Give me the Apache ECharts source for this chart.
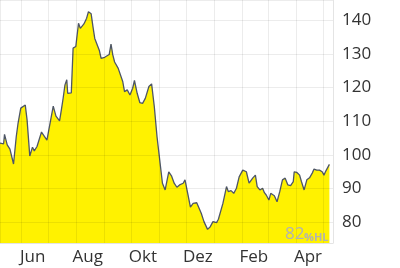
<!DOCTYPE html>
<html><head><meta charset="utf-8">
<script src="https://cdn.jsdelivr.net/npm/echarts@6/dist/echarts.min.js"></script>
<style>html,body{margin:0;padding:0;background:#fff}#c{width:400px;height:268px}</style>
</head><body><div id="c"></div>
<script>
const dates = [
'2023-05-09','2023-05-13','2023-05-14','2023-05-17','2023-05-20','2023-05-24','2023-05-27','2023-05-29',
'2023-06-01','2023-06-06','2023-06-08','2023-06-11','2023-06-14','2023-06-16','2023-06-19','2023-06-24','2023-06-30',
'2023-07-07','2023-07-10','2023-07-14','2023-07-16','2023-07-18','2023-07-20','2023-07-22','2023-07-23','2023-07-27','2023-07-29',
'2023-08-01','2023-08-04','2023-08-06','2023-08-10','2023-08-13','2023-08-15','2023-08-18','2023-08-20','2023-08-22','2023-08-24','2023-08-27','2023-08-29',
'2023-09-02','2023-09-07','2023-09-09','2023-09-11','2023-09-13','2023-09-17','2023-09-22','2023-09-24','2023-09-27','2023-09-30',
'2023-10-03','2023-10-05','2023-10-08','2023-10-11','2023-10-14','2023-10-17','2023-10-21','2023-10-24','2023-10-25','2023-10-27','2023-10-30',
'2023-11-02','2023-11-05','2023-11-08','2023-11-12','2023-11-15','2023-11-18','2023-11-21','2023-11-24','2023-11-28','2023-11-30',
'2023-12-03','2023-12-06','2023-12-09','2023-12-13','2023-12-15','2023-12-18','2023-12-21','2023-12-25','2023-12-28','2023-12-31',
'2024-01-04','2024-01-06','2024-01-11','2024-01-15','2024-01-17','2024-01-20','2024-01-23','2024-01-26','2024-01-29',
'2024-02-02','2024-02-06','2024-02-09','2024-02-13','2024-02-16','2024-02-18','2024-02-21','2024-02-24','2024-02-26','2024-02-28',
'2024-03-02','2024-03-04','2024-03-08','2024-03-11','2024-03-14','2024-03-17','2024-03-20','2024-03-23','2024-03-26','2024-03-29','2024-03-30',
'2024-04-02','2024-04-05','2024-04-07','2024-04-10','2024-04-13','2024-04-16','2024-04-19','2024-04-21','2024-04-24','2024-04-27','2024-04-30',
'2024-05-02','2024-05-04','2024-05-08'
];
const prices = [
103.5,103.3,106.1,103.0,101.7,97.3,105.4,109.4,
113.9,114.8,110.4,99.7,102.3,101.2,102.5,106.8,104.4,
114.5,111.5,110.1,113.4,116.9,120.8,122.3,118.3,118.4,131.7,
132.2,139.1,137.6,138.9,140.6,142.5,141.9,138.1,134.6,134.1,131.1,128.7,
129.0,129.8,132.9,129.7,127.6,125.7,121.8,118.8,119.3,117.8,
119.8,122.1,118.3,115.5,115.3,116.8,120.3,121.1,120.8,114.3,105.4,
98.5,91.6,89.6,95.0,93.8,91.6,90.4,91.1,91.6,92.6,
88.6,84.5,85.6,85.8,85.7,82.7,80.2,77.9,78.7,80.2,
79.9,80.9,85.6,90.6,89.1,89.4,88.6,90.1,93.5,
95.5,95.0,91.6,93.1,94.0,90.6,89.6,90.1,88.8,88.1,
86.6,88.6,87.9,86.1,89.1,92.6,93.1,91.1,90.9,92.1,95.0,
94.8,94.0,92.1,89.6,92.6,93.2,94.6,95.8,95.5,95.5,95.0,
94.0,95.2,97.2
];
const monthLabels = ['Jan','Feb','Mär','Apr','Mai','Jun','Jul','Aug','Sep','Okt','Nov','Dez'];
const labelledMonths = ['Jun','Aug','Okt','Dez','Feb','Apr'];
const hlValue = '82';
const hlUnit = '%HL';

const DAY = 86400000;
const chart = echarts.init(document.getElementById('c'), null, {renderer: 'canvas'});
const font = '"Open Sans", "Noto Sans", sans-serif';
chart.setOption({
  animation: false,
  backgroundColor: '#fff',
  grid: {left: 0, right: 67, top: 0, bottom: 25, containLabel: false},
  xAxis: {
    type: 'time',
    min: '2023-05-09',
    max: '2024-05-12',
    splitNumber: 12,
    minInterval: 30 * DAY,
    maxInterval: 30 * DAY,
    z: 5,
    axisLine: {show: true, lineStyle: {color: '#e4e4e4', width: 1}},
    axisTick: {show: false},
    splitLine: {show: true, lineStyle: {color: 'rgba(0,0,0,0.075)', width: 1}},
    axisLabel: {
      color: '#333', fontSize: 17, fontFamily: font, margin: 6,
      align: 'center', padding: [0, 0, 0, 24],
      showMinLabel: false, showMaxLabel: false,
      formatter: function (v) {
        const m = monthLabels[new Date(v).getMonth()];
        return labelledMonths.indexOf(m) >= 0 ? m : '';
      }
    }
  },
  yAxis: {
    type: 'value',
    position: 'right',
    min: 73.85,
    max: 146,
    splitNumber: 7,
    z: 5,
    axisLine: {show: true, lineStyle: {color: '#e4e4e4', width: 1}},
    axisTick: {show: false},
    splitLine: {show: true, lineStyle: {color: 'rgba(0,0,0,0.075)', width: 1}},
    axisLabel: {
      color: '#333', fontSize: 17, fontFamily: font, margin: 9,
      showMinLabel: false, showMaxLabel: false
    }
  },
  series: [{
    type: 'line',
    data: dates.map((d, i) => [d, prices[i]]),
    symbol: 'none',
    z: 2,
    lineStyle: {color: '#4e5666', width: 1.3},
    areaStyle: {color: '#fff200', opacity: 1}
  }],
  graphic: [
    {type: 'text', left: 285, top: 226, z: 10,
     style: {text: hlValue, fill: '#b2b2b2', font: '17px ' + font}},
    {type: 'text', left: 304, top: 232, z: 10,
     style: {text: hlUnit, fill: '#b2b2b2', font: 'bold 11px ' + font}}
  ]
});
</script>
</body></html>
